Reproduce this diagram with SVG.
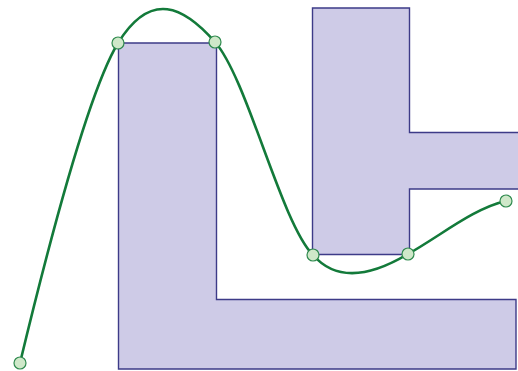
<svg xmlns="http://www.w3.org/2000/svg" width="518" height="371" viewBox="0 0 518 371">
<style>
.shape{fill:#cecbe7;stroke:#3d3b88;stroke-width:1.4;stroke-linejoin:miter}
.curve{fill:none;stroke:#137a3a;stroke-width:2.6}
.pt{fill:#cfe8c9;stroke:#2f8a4e;stroke-width:1.2}
</style>
<rect width="518" height="371" fill="#ffffff"/>
<g id="shape1"><polygon class="shape" points="118.5,43 216.5,43 216.5,299.5 516,299.5 516,369 118.5,369"/></g>
<g id="shape2"><polygon class="shape" points="312.5,8 409.5,8 409.5,132.5 530,132.5 530,189 409.5,189 409.5,254.5 312.5,254.5"/></g>
<g id="connectors">
<path class="curve" d="M20,363 C40,280 85.5,96.5 118,43 C151,-10.5 184,6.7 215,42 C247.5,79 280.8,222 313,255 C340,286 378,272 408,254 C440.2,236 474,208 506,201"/>
</g>
<g id="points">
<circle class="pt" cx="20" cy="363" r="6"/>
<circle class="pt" cx="118" cy="43" r="6"/>
<circle class="pt" cx="215" cy="42" r="6"/>
<circle class="pt" cx="313" cy="255" r="6"/>
<circle class="pt" cx="408" cy="254" r="6"/>
<circle class="pt" cx="506" cy="201" r="6"/>
</g>
</svg>
